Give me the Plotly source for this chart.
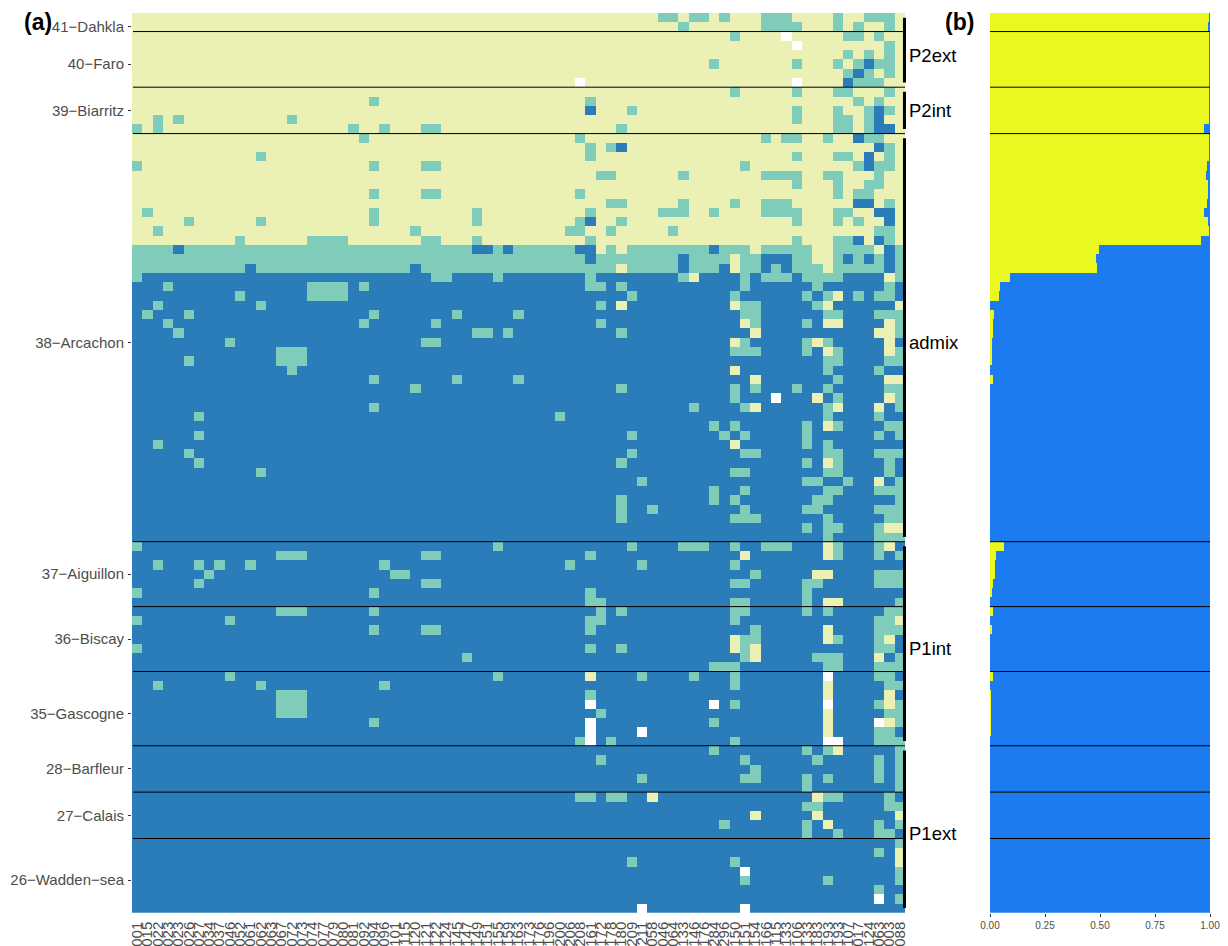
import plotly.graph_objects as go

# ---- data -------------------------------------------------------------
group_names = ["41\u2212Dahkla", "40\u2212Faro", "39\u2212Biarritz", "38\u2212Arcachon",
               "37\u2212Aiguillon", "36\u2212Biscay", "35\u2212Gascogne",
               "28\u2212Barfleur", "27\u2212Calais", "26\u2212Wadden\u2212sea"]
group_sizes = [2, 6, 5, 44, 7, 7, 8, 5, 5, 8]
group_ticks = [1, 5, 10, 35, 60, 67, 75, 81, 86, 93]

clade_names = ["P2ext", "P2int", "admix", "P1int", "P1ext"]
clade_first = [0, 8, 13, 57, 79]
clade_last = [7, 12, 56, 78, 96]
clade_label_row = [4.1, 10, 35, 68, 88]

locus_labels = ["001","015","022","023","023","026","027","034","037","046","052","061","062","063","067","072",
                "073","074","077","079","080","081","092","094","096","101","115","120","121","122","124","145",
                "147","149","151","155","159","163","173","176","196","200","206","208","161","172","178","180",
                "209","211","058","046","064","133","146","176","284","296","150","151","154","166","115","133",
                "106","133","183","193","193","107","017","124","063","003","088"]

# rows: {row: [columns]} per kind of cell
base_pale_rows = 25
teal = {
 0:[51,52,54,55,57,61,62,63,68,71,72,73], 1:[53,61,62,63,64,68,70,73], 2:[58,69,70,72], 3:[73], 4:[69,71,73],
 5:[56,64,68,70,72,73], 6:[69,71,73], 7:[70,71,72], 8:[58,64,68,69,73], 9:[23,44,70,72],
 10:[48,64,68,71,73], 11:[2,4,15,64,68,69,71], 12:[0,2,21,24,28,29,47,68,69,71], 13:[22,43,61,63,64,67,71,72],
 14:[44,46,73], 15:[12,44,64,68,69,73], 16:[0,23,28,29,59,70,72,73], 17:[45,46,53,61,62,63,64,67,68,72],
 18:[64,68,71,72], 19:[23,28,29,43,68,70,71], 20:[46,47,53,58,61,62,63,73], 21:[1,23,33,44,51,52,53,56,61,62,63,64,68,69],
 22:[5,12,23,33,43,47,64,68,70], 23:[2,27,42,43,46,52,72,73], 24:[10,17,18,19,20,28,29,33,44,64,68,69,73],
 28:[0,29,30,35,44,53,59,61,62,63,65,66,67,68,74], 29:[3,17,18,19,20,22,44,45,47,59,66,73],
 30:[10,17,18,19,20,48,58,65,67,70,72,73], 31:[2,12,45,59,60,66], 32:[1,5,23,31,37,59,60,67,68,72,73,74],
 33:[3,22,29,45,60,65,74], 34:[4,33,34,36,47,74], 35:[9,28,29,59,65,67], 36:[14,15,16,58,59,60,65,68,74],
 37:[5,14,15,16,67,68,73,74], 38:[15,67,72], 39:[23,31,37,68], 40:[27,47,58,60,64,67,73,74], 41:[58,68,74],
 42:[23,54,59,67,74], 43:[6,41,67,72], 44:[56,58,65,68,73,74], 45:[6,48,57,59,65,72,74], 46:[2,65,67],
 47:[5,48,59,60,67,68,72,73,74], 48:[6,47,65,68,73], 49:[12,58,59,67,68,73], 50:[49,65,66,69,74],
 51:[56,59,67,68,72,73,74], 52:[47,56,58,66,67,74], 53:[47,50,59,65,66,72,73,74], 54:[47,58,59,60,67,73,74],
 55:[65,67,68,72], 56:[67,72,73,74], 57:[0,35,48,53,54,55,58,61,62,63,68,72],
 58:[14,15,16,28,29,44,68,72,74], 59:[2,6,8,11,24,42,49,58], 60:[7,25,26,60,72,73,74],
 61:[6,28,29,58,59,65,66,72,73,74], 62:[0,23,44,65], 63:[44,45,58,59,65,74],
 64:[14,15,16,23,45,47,58,59,65,67,73,74], 65:[0,9,44,45,58,72,73], 66:[23,28,29,44,60,72,73,74],
 67:[59,60,68,72], 68:[0,44,47,59,72,73], 69:[32,59,66,67,68,74], 70:[56,57,58,67,68,72,73,74],
 71:[9,35,49,54,58,72,73], 72:[2,12,24,58,73,74], 73:[14,15,16,44], 74:[14,15,16,58,72,74],
 75:[14,15,16,45,73,74], 76:[23,56,74], 77:[72,73], 78:[43,46,58,72,73,74], 79:[56,65,67,74],
 80:[45,59,66,72,74], 81:[60,72,74], 82:[49,59,60,65,67,72,74], 83:[65,74], 84:[43,44,46,47,67,68,73],
 85:[65,66,73,74], 87:[57,65,72,74], 88:[65,68,72,73], 89:[74], 90:[72], 91:[48,58], 92:[74], 93:[59,67,74],
 94:[72], 95:[74],
}
dark_in_pale = {
 5:[71], 6:[70], 7:[69], 10:[44,72], 11:[72], 12:[72,73], 13:[70], 14:[47,72], 15:[71], 16:[71],
 20:[70,71], 21:[72,73], 22:[44,73], 24:[70,72],
}
teal_band_dark = {25:[4,33,34,36,43,44,56,73], 26:[44,53,61,62,63,69,71,73], 27:[11,27,53,57,61,63,73]}
teal_band_pale = {25:[45,47,60,66,67,72], 26:[58,66,67], 27:[47,58,67]}
pale_in_dark = {
 28:[54,73], 30:[68], 31:[47,58,67,74], 33:[59,67,68,73], 34:[60,72,73], 35:[58,66,73], 36:[67,73], 38:[58],
 39:[60,73,74], 41:[66,73], 42:[60,68,72], 44:[67], 46:[58], 48:[67], 50:[72], 55:[73,74],
 57:[67,73], 58:[59,67], 60:[66,67], 63:[67,68], 65:[74], 66:[67], 67:[58,67,73], 68:[58,60], 69:[60,72],
 71:[44], 72:[67], 73:[67,73], 74:[73], 75:[67], 76:[67,73], 77:[67], 79:[68], 84:[50,66], 86:[60,66,74],
 87:[67], 90:[74], 91:[74],
}
white_cells = {
 2:[63], 3:[64], 7:[43,64], 41:[62], 71:[67], 74:[44,56,67], 76:[44,72], 77:[44,49], 78:[44,67,68],
 92:[59], 95:[72], 96:[49,59],
}

# panel (b): share of the yellow cluster per row, rows not listed use the defaults below
yellow_share = {
 1:0.99, 12:0.972, 16:0.985, 17:0.98, 18:0.995, 19:0.993, 20:0.985, 21:0.972, 22:0.993, 23:0.996,
 24:0.96, 25:0.495, 26:0.482, 27:0.488, 28:0.09, 29:0.045, 30:0.04, 31:0.0, 32:0.018,
 33:0.012, 34:0.012, 35:0.008, 36:0.008, 37:0.008, 39:0.012,
 57:0.063, 58:0.028, 59:0.023, 60:0.022, 61:0.013, 62:0.009, 64:0.013, 66:0.009, 71:0.013,
 73:0.004, 74:0.004, 75:0.004, 76:0.004, 77:0.003,
}
yellow_default_top, yellow_default_rest = 0.996, 0.0
b_ticks = [0.0, 0.25, 0.5, 0.75, 1.0]

# ---- build ------------------------------------------------------------
n_rows = sum(group_sizes)
n_cols = len(locus_labels)
z = [[(2 if r < base_pale_rows else 0) for _ in range(n_cols)] for r in range(n_rows)]
for r in (25, 26, 27):
    z[r] = [1] * n_cols
for r, cols in teal.items():
    for c in cols: z[r][c] = 1
for table, val in ((dark_in_pale, 0), (teal_band_dark, 0), (teal_band_pale, 2), (pale_in_dark, 2)):
    for r, cols in table.items():
        for c in cols: z[r][c] = val
for r, cols in white_cells.items():
    for c in cols: z[r][c] = None

BLUE, TEAL, PALE = "#2A7DB8", "#7FCCBB", "#EBF0B5"
rows = list(range(n_rows))
share = [yellow_share.get(r, yellow_default_top if r < 25 else yellow_default_rest) for r in rows]

fig = go.Figure()
fig.add_trace(go.Heatmap(
    z=z, x=list(range(n_cols)), y=rows, zmin=0, zmax=2, showscale=False, hoverongaps=False,
    colorscale=[[0, BLUE], [0.5, BLUE], [0.5, TEAL], [0.75, TEAL], [0.75, PALE], [1, PALE]],
    xaxis="x", yaxis="y", xgap=0, ygap=0))
fig.add_trace(go.Bar(x=share, y=rows, orientation="h", width=1, marker=dict(color="#E9F91F", line_width=0),
                     xaxis="x2", yaxis="y2", showlegend=False))
fig.add_trace(go.Bar(x=[1 - s for s in share], y=rows, orientation="h", width=1, marker=dict(color="#1C7BEE", line_width=0),
                     xaxis="x2", yaxis="y2", showlegend=False))

# group separators
edge = 0
for size in group_sizes[:-1]:
    edge += size
    for xa, ya, xs in (("x", "y", [-0.4, n_cols - 0.5]), ("x2", "y2", [0, 1])):
        fig.add_trace(go.Scatter(x=xs, y=[edge - 0.5] * 2, mode="lines", xaxis=xa, yaxis=ya,
                                 line=dict(color="black", width=1), showlegend=False, hoverinfo="skip"))

# clade bars and labels
for name, a, b, lab in zip(clade_names, clade_first, clade_last, clade_label_row):
    fig.add_trace(go.Scatter(x=[n_cols - 0.55] * 2, y=[a, b], mode="lines", xaxis="x", yaxis="y",
                             line=dict(color="black", width=3), showlegend=False, hoverinfo="skip"))
    fig.add_annotation(x=n_cols - 0.5, y=lab, xref="x", yref="y", text=name, showarrow=False, xanchor="left",
                       xshift=2, font=dict(size=18.5, color="black"))

FONT = "Liberation Sans, Arial, sans-serif"
OFF = 8                      # the page body margin
W, H = 1228 - OFF, 946 - OFF
L0, R0, T, B = 132 - OFF, 905 - OFF, 13 - OFF, 912.7 - OFF
L1, R1 = 990 - OFF, 1210 - OFF
CELL = (R0 - L0) / n_cols
PAD_CELLS = 0.2              # room on the right of the cells so the clade bars are not cut
fig.update_layout(
    width=W, height=H, autosize=False, margin=dict(l=0, r=0, t=0, b=0, autoexpand=False), paper_bgcolor="white",
    plot_bgcolor="white", barmode="stack", bargap=0, showlegend=False, font=dict(family=FONT),
    xaxis=dict(domain=[L0 / W, (R0 + PAD_CELLS * CELL) / W], range=[-0.5, n_cols - 0.5 + PAD_CELLS], tickmode="array",
               tickvals=list(range(n_cols)), ticktext=locus_labels, tickangle=-90,
               tickfont=dict(size=15, color="#4D4D4D"), ticks="", showgrid=False,
               zeroline=False, anchor="y", automargin=False, ticklabelstandoff=5),
    yaxis=dict(domain=[1 - B / H, 1 - T / H], range=[n_rows - 0.5, -0.5], tickmode="array", tickvals=group_ticks,
               ticktext=group_names, tickfont=dict(size=15, color="#4D4D4D"), ticks="outside", ticklen=3, tickwidth=1.2,
               tickcolor="#333333", showgrid=False, zeroline=False, anchor="x", automargin=False, ticklabelstandoff=1),
    xaxis2=dict(domain=[L1 / W, R1 / W], range=[0, 1], tickmode="array", tickvals=b_ticks,
                ticktext=["0.00", "0.25", "0.50", "0.75", "1.00"], tickfont=dict(size=10, color="#4D4D4D"), ticks="outside",
                ticklen=3, tickwidth=1.2, tickcolor="#333333", showgrid=False, zeroline=False, anchor="y2", automargin=False),
    yaxis2=dict(domain=[1 - B / H, 1 - T / H], range=[n_rows - 0.5, -0.5], showticklabels=False, ticks="", showgrid=False,
                zeroline=False, anchor="x2", automargin=False),
)
for txt, px in (("<b>(a)</b>", 22 - OFF), ("<b>(b)</b>", 943 - OFF)):
    fig.add_annotation(x=px / W, y=1 - (22 - OFF) / H, xref="paper", yref="paper", xanchor="left", yanchor="middle", text=txt,
                       showarrow=False, font=dict(size=23, color="black"))

fig.write_html("out.html")
